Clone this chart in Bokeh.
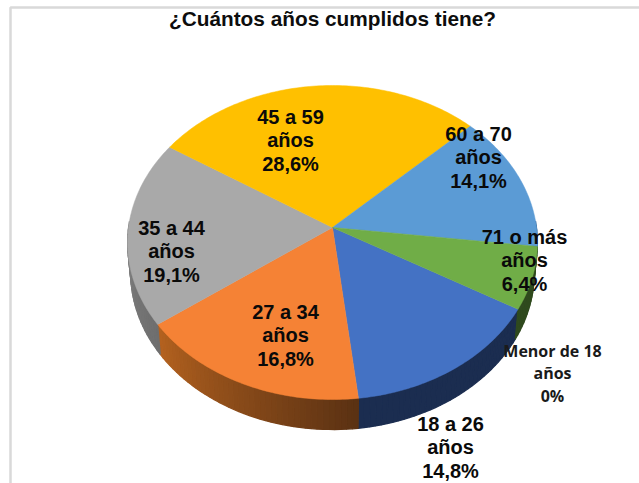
from math import sin, cos, radians
from bokeh.plotting import figure
from bokeh.embed import file_html
from bokeh.resources import INLINE
from bokeh.core.properties import value

title = "¿Cuántos años cumplidos tiene?"
categories = ["Menor de 18 años", "18 a 26 años", "27 a 34 años", "35 a 44 años", "45 a 59 años", "60 a 70 años", "71 o más años"]
shares = [0.0, 14.8, 16.8, 19.1, 28.6, 14.1, 6.4]
share_labels = ["0%", "14,8%", "16,8%", "19,1%", "28,6%", "14,1%", "6,4%"]
top_colors = ["#4472C4", "#4472C4", "#F58235", "#A9A9A9", "#FFC000", "#5B9BD5", "#70AD47"]
side_from = ["#1B2D50", "#1B2D50", "#B4621F", "#8E8E8E", "#A08000", "#3A6A9A", "#2F4A1E"]
side_to = ["#1B2D50", "#1B2D50", "#5A3113", "#6E6E6E", "#A08000", "#3A6A9A", "#2F4A1E"]

# layout of the tilted pie (page pixels)
CX, CY, RX, RY, TILT, DEPTH, START, RIM = 332, 227, 204, 155.6, 0.0956, 30, 120, 0.985
label_pos = {
    "Menor de 18 años": (552, 373), "18 a 26 años": (450, 447), "27 a 34 años": (285, 335),
    "35 a 44 años": (171, 251), "45 a 59 años": (290, 140), "60 a 70 años": (478, 157),
    "71 o más años": (524, 260),
}

def project(deg, lower=False):
    t = radians(deg)
    u, v = sin(t), cos(t)
    w = 1 + TILT * v
    if lower:
        return CX + RIM * RX * u / w, CY - RY * v / w + DEPTH
    return CX + RX * u / w, CY - RY * v / w

def hex_mix(a, b, f):
    ca = [int(a[i:i + 2], 16) for i in (1, 3, 5)]
    cb = [int(b[i:i + 2], 16) for i in (1, 3, 5)]
    return "#%02x%02x%02x" % tuple(round(x + (y - x) * f) for x, y in zip(ca, cb))

p = figure(width=639, height=483, x_range=(0, 639), y_range=(483, 0),
           output_backend="svg", toolbar_location=None, min_border=0,
           outline_line_color=None)
p.axis.visible = False
p.grid.visible = False
p.background_fill_color = "white"
p.border_fill_color = "white"

# faint frame of the pasted picture
p.line([10, 10, 639], [483, 7, 7], line_color="#D9D9D9", line_width=2.5)

# slice angle spans
total = sum(shares)
spans = []
a = START
for s in shares:
    b = a + s / total * 360
    spans.append((a, b))
    a = b

# side wall strips
sx, sy, sc = [], [], []
for (a0, a1), c0, c1 in zip(spans, side_from, side_to):
    if a1 <= a0:
        continue
    n = max(2, int((a1 - a0) / 1.5))
    for i in range(n):
        d0 = a0 + (a1 - a0) * i / n
        d1 = a0 + (a1 - a0) * (i + 1) / n
        mid = ((d0 + d1) / 2) % 360
        if mid < 88 or mid > 272:
            continue
        x0, y0 = project(d0)
        x1, y1 = project(d1)
        x2, y2 = project(d1, True)
        x3, y3 = project(d0, True)
        sx.append([x0, x1, x2, x3])
        sy.append([y0, y1, y2, y3])
        sc.append(hex_mix(c0, c1, 1 - (i + 0.5) / n))
p.patches(sx, sy, fill_color=sc, line_color=sc, line_width=1.2)

# top faces
for (a0, a1), col in zip(spans, top_colors):
    if a1 <= a0:
        continue
    n = max(4, int(a1 - a0))
    pts = [project(a0 + (a1 - a0) * i / n) for i in range(n + 1)]
    xs = [CX] + [q[0] for q in pts]
    ys = [CY] + [q[1] for q in pts]
    p.patch(xs, ys, fill_color=col, line_color=col, line_width=0.5)

# labels
for cat, lab in zip(categories, share_labels):
    x, y = label_pos[cat]
    head, tail = cat.rsplit(" ", 1)
    small = cat.startswith("Menor")
    txt = f"{head}\n{tail}\n{lab}"
    p.text([x], [y], text=[txt], text_align="center", text_baseline="middle",
           text_font=value("Open Sans" if small else "Liberation Sans"),
           text_font_style="bold",
           text_font_size="16px" if small else "20px",
           text_line_height=1.03 if small else 1.08,
           text_color="#1a1a1a" if small else "#0a0a0a")

p.text([332], [18], text=[title], text_align="center", text_baseline="middle",
       text_font=value("Liberation Sans"), text_font_style="bold",
       text_font_size="20.8px", text_color="#0d0d0d")

open("out.html", "w").write(file_html(p, INLINE))
